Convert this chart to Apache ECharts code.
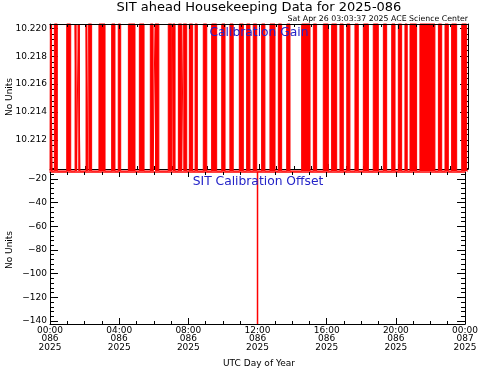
<!DOCTYPE html>
<html><head><meta charset="utf-8">
<script src="https://cdn.jsdelivr.net/npm/echarts@6/dist/echarts.min.js"></script>
<style>html,body{margin:0;padding:0;background:#fff}#c{width:481px;height:371px}</style>
</head><body><div id="c"></div>
<script>
// ---- data (hours of day 2025-086, UTC) ----
const gainBandStart = [0.02,0.25,0.96,1.44,1.62,2.07,2.20,2.81,3.54,3.92,4.50,5.13,5.76,6.03,6.79,7.04,7.37,7.65,8.00,8.33,8.80,9.28,9.86,10.33,10.87,11.29,11.67,12.15,12.63,13.11,13.59,14.45,15.12,15.69,16.17,16.65,17.04,17.51,17.99,18.56,19.14,19.62,20.00,20.38,20.67,21.24,22.30,22.68,23.06,23.64];
const gainBandEnd   = [0.12,0.42,1.19,1.53,1.72,2.14,2.39,3.16,3.73,4.06,4.88,5.40,5.92,6.25,6.99,7.18,7.56,7.85,8.19,8.46,9.00,9.57,10.05,10.52,11.10,11.48,11.87,12.34,12.92,13.30,13.78,14.93,15.31,15.98,16.46,16.84,17.22,17.70,18.28,18.85,19.33,19.81,20.19,20.51,21.05,22.10,22.49,22.87,23.35,23.92];
const gainHigh = 10.2203;
const gainLow = 10.20979;
const offsetTimes = [12.0, 12.0];
const offsetValues = [-142.5, -14.1];
// ---- ticks ----
const hourTicks = [0, 4, 8, 12, 16, 20, 24];
const hourLabels = ['00:00', '04:00', '08:00', '12:00', '16:00', '20:00', '00:00'];
const doyLabels = ['086', '086', '086', '086', '086', '086', '087'];
const yearLabels = ['2025', '2025', '2025', '2025', '2025', '2025', '2025'];
const gainTicks = [10.212, 10.214, 10.216, 10.218, 10.220];
const gainTickLabels = ['10.212', '10.214', '10.216', '10.218', '10.220'];
const offsetTicks = [-140, -120, -100, -80, -60, -40, -20];
const offsetTickLabels = ['\u2212140', '\u2212120', '\u2212100', '\u221280', '\u221260', '\u221240', '\u221220'];

const gainMin = 10.20993, gainMax = 10.2203;
const offMin = -142.5, offMax = -14.1;

// build series data
const gainLine = [[0, gainLow]];
const gainBands = [];
for (let i = 0; i < gainBandStart.length; i++) {
  gainLine.push([gainBandStart[i], gainLow], [gainBandStart[i], gainHigh], [gainBandEnd[i], gainHigh], [gainBandEnd[i], gainLow]);
  gainBands.push([gainBandStart[i], gainBandEnd[i]]);
}
gainLine.push([24, gainLow]);
const offsetData = offsetTimes.map((t, i) => [t, offsetValues[i]]);

// minor tick positions
function minorVals(lo, hi, step, majors) {
  const out = [];
  const n0 = Math.ceil(lo / step - 1e-6), n1 = Math.floor(hi / step + 1e-6);
  for (let n = n0; n <= n1; n++) {
    const v = +(n * step).toFixed(6);
    if (!majors.some(m => Math.abs(m - v) < step / 10)) out.push(v);
  }
  return out;
}
const gainMinor = minorVals(gainMin, gainMax, 0.0004, gainTicks);
const offMinor = minorVals(offMin, offMax, 4, offsetTicks);

const FONT = 'DejaVu Sans';
const BLACK = '#000';
const RED = '#ff0000';
const BLUE = '#2424c8';

function xAxisDef(grid, pos, opts) {
  return Object.assign({
    type: 'value', gridIndex: grid, position: pos, min: 0, max: 24, interval: 4,
    axisLine: { show: true, onZero: false, lineStyle: { color: BLACK, width: 1 } },
    axisTick: { show: true, inside: true, length: 5, lineStyle: { color: BLACK, width: 1 } },
    minorTick: { show: true, splitNumber: 4, length: 3, lineStyle: { color: BLACK, width: 1 } },
    axisLabel: { show: false },
    splitLine: { show: false }
  }, opts || {});
}
function yAxisDef(grid, pos, min, max, vals, len, withLine, labels) {
  return {
    type: 'value', gridIndex: grid, position: pos, min: min, max: max,
    axisLine: { show: withLine, onZero: false, lineStyle: { color: BLACK, width: 1 } },
    axisTick: { show: true, inside: true, length: len, customValues: vals, lineStyle: { color: BLACK, width: 1 } },
    axisLabel: labels ? {
      show: true, customValues: vals, margin: 3, fontFamily: FONT, fontSize: 9, color: BLACK,
      formatter: v => { const i = vals.findIndex(t => Math.abs(t - v) < 1e-6); return i >= 0 ? labels[i] : ''; }
    } : { show: false },
    splitLine: { show: false }
  };
}

const chart = echarts.init(document.getElementById('c'), null, { renderer: 'canvas' });
chart.setOption({
  animation: false,
  backgroundColor: '#fff',
  grid: [
    { left: 50, top: 24, width: 418, height: 145 },
    { left: 50, top: 172, width: 418, height: 152 }
  ],
  xAxis: [
    xAxisDef(0, 'bottom', { z: 1 }),
    xAxisDef(0, 'top', { z: 5 }),
    xAxisDef(1, 'bottom', {
      axisTick: { show: true, inside: true, length: 6, lineStyle: { color: BLACK, width: 1 } },
      axisLabel: {
        show: true, margin: 2, fontFamily: FONT, fontSize: 9, color: BLACK, lineHeight: 8.7,
        formatter: v => { const i = hourTicks.indexOf(v); return i >= 0 ? hourLabels[i] + '\n' + doyLabels[i] + '\n' + yearLabels[i] : ''; }
      }
    }),
    xAxisDef(1, 'top', { axisLine: { show: true, onZero: false, lineStyle: { color: RED, width: 1.5 } } })
  ],
  yAxis: [
    yAxisDef(0, 'left', gainMin, gainMax, gainTicks, 8, true, gainTickLabels),
    yAxisDef(0, 'left', gainMin, gainMax, gainMinor, 4, false, null),
    yAxisDef(0, 'right', gainMin, gainMax, gainTicks, 8, true, null),
    yAxisDef(0, 'right', gainMin, gainMax, gainMinor, 4, false, null),
    yAxisDef(1, 'left', offMin, offMax, offsetTicks, 8, true, offsetTickLabels),
    yAxisDef(1, 'left', offMin, offMax, offMinor, 4, false, null),
    yAxisDef(1, 'right', offMin, offMax, offsetTicks, 8, true, null),
    yAxisDef(1, 'right', offMin, offMax, offMinor, 4, false, null)
  ],
  series: [
    {
      type: 'custom', xAxisIndex: 0, yAxisIndex: 0, data: gainBands, encode: { x: [0, 1] }, z: 2,
      renderItem: (params, api) => {
        const p0 = api.coord([api.value(0), gainHigh]);
        const p1 = api.coord([api.value(1), gainLow]);
        return { type: 'rect', shape: { x: p0[0], y: p0[1], width: p1[0] - p0[0], height: p1[1] - p0[1] }, style: { fill: RED } };
      }
    },
    {
      type: 'line', xAxisIndex: 0, yAxisIndex: 0, data: gainLine, symbol: 'none', clip: false,
      lineStyle: { color: RED, width: 1 }, z: 3
    },
    {
      type: 'line', xAxisIndex: 2, yAxisIndex: 4, data: offsetData, symbol: 'none',
      lineStyle: { color: RED, width: 1.5 }, z: 2
    }
  ],
  graphic: [
    { type: 'text', x: 259, y: 8, z: 10, style: { text: 'SIT ahead Housekeeping Data for 2025-086', fontFamily: FONT, fontSize: 13, fill: BLACK, align: 'center', verticalAlign: 'middle' } },
    { type: 'text', x: 468, y: 19, z: 10, style: { text: 'Sat Apr 26 03:03:37 2025 ACE Science Center', fontFamily: FONT, fontSize: 7.8, fill: BLACK, align: 'right', verticalAlign: 'middle' } },
    { type: 'text', x: 259, y: 33, z: 10, style: { text: 'Calibration Gain', fontFamily: FONT, fontSize: 12.3, fill: BLUE, align: 'center', verticalAlign: 'middle' } },
    { type: 'text', x: 258, y: 182, z: 10, style: { text: 'SIT Calibration Offset', fontFamily: FONT, fontSize: 12.3, fill: BLUE, align: 'center', verticalAlign: 'middle' } },
    { type: 'text', x: 10, y: 97, rotation: Math.PI / 2, z: 10, style: { text: 'No Units', fontFamily: FONT, fontSize: 9, fill: BLACK, align: 'center', verticalAlign: 'middle' } },
    { type: 'text', x: 10, y: 250, rotation: Math.PI / 2, z: 10, style: { text: 'No Units', fontFamily: FONT, fontSize: 9, fill: BLACK, align: 'center', verticalAlign: 'middle' } },
    { type: 'text', x: 259, y: 364, z: 10, style: { text: 'UTC Day of Year', fontFamily: FONT, fontSize: 9, fill: BLACK, align: 'center', verticalAlign: 'middle' } }
  ]
});
</script>
</body></html>
